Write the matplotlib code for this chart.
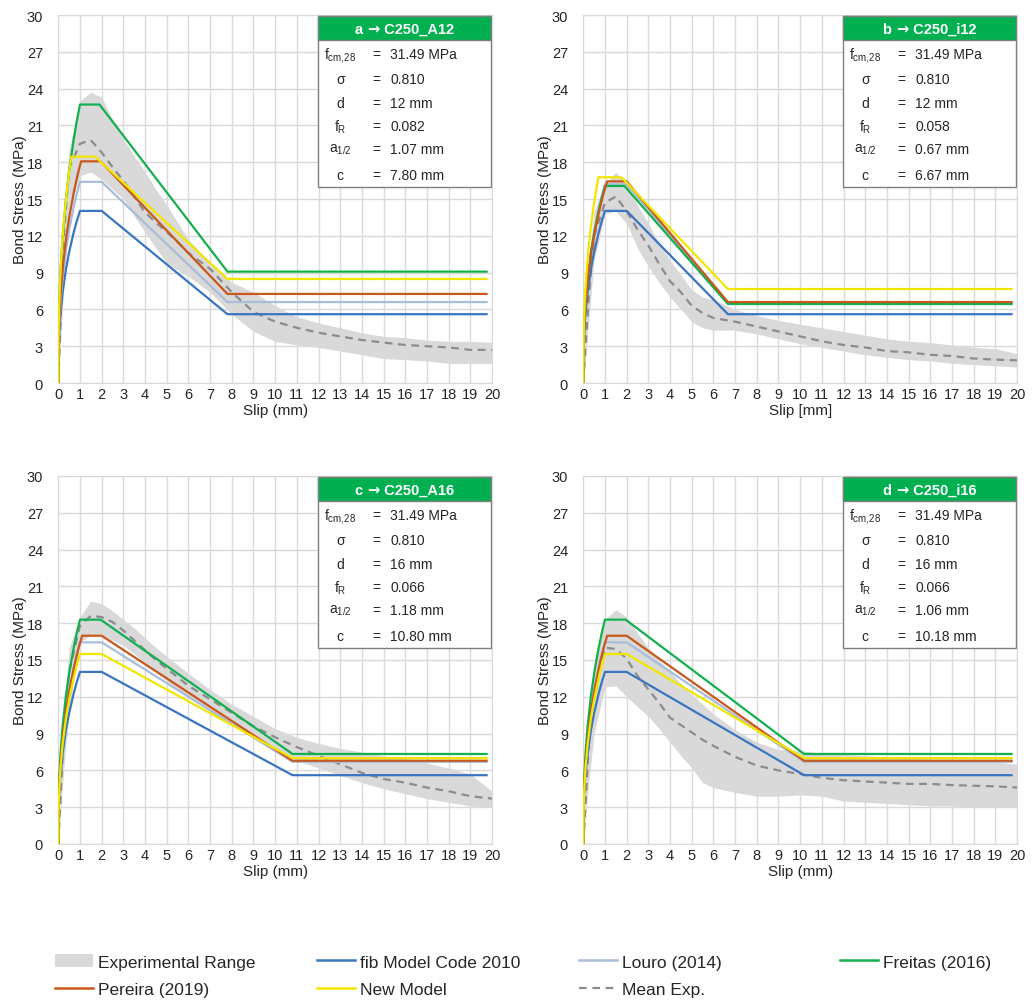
import numpy as np
import matplotlib
matplotlib.use("Agg")
import matplotlib.pyplot as plt
from matplotlib.patches import Rectangle, Patch
from matplotlib.lines import Line2D
from matplotlib.offsetbox import TextArea, HPacker, AnnotationBbox

plt.rcParams["font.family"] = ["Liberation Sans", "DejaVu Sans"]
plt.rcParams["mathtext.fontset"] = "custom"
plt.rcParams["mathtext.rm"] = "Liberation Sans"
plt.rcParams["mathtext.it"] = "Liberation Sans:italic"

# ---------------------------------------------------------------- data
SLIP = [0, 0.25, 0.5, 1, 1.5, 2, 2.5, 3, 3.5, 4, 4.5, 5, 5.5, 6,
        7, 8, 9, 10, 11, 12, 13, 14, 15, 16, 17, 18, 19, 20]

# experimental envelope (upper / lower) and mean curve, MPa
a_upper = [0, 14, 19, 23.0, 23.7, 23.3, 21.5, 19.9, 18.5, 17.2, 15.8, 14.5, 13.1, 11.7,
           9.8, 8.2, 7.4, 6.3, 5.4, 4.9, 4.5, 4.1, 3.8, 3.7, 3.5, 3.4, 3.4, 3.3]
a_lower = [0, 8, 14, 16.9, 17.2, 16.6, 15.8, 15.0, 13.6, 12.3, 11.0, 9.8, 9.2, 8.7,
           7.4, 5.6, 4.2, 3.4, 3.1, 2.9, 2.6, 2.3, 2.0, 1.9, 1.8, 1.6, 1.6, 1.6]
a_mean = [0, 12, 17.5, 19.5, 19.8, 18.8, 17.6, 16.5, 15.2, 13.9, 13.1, 12.3, 11.5, 10.6,
          9.3, 7.4, 5.8, 5.0, 4.5, 4.1, 3.8, 3.5, 3.3, 3.1, 3.0, 2.9, 2.7, 2.7]

b_upper = [0, 10, 14, 16.2, 17.2, 16.2, 14.5, 13.0, 11.4, 10.0, 8.8, 7.6, 7.0, 6.8,
           6.0, 5.5, 5.1, 4.8, 4.5, 4.2, 3.9, 3.6, 3.4, 3.3, 3.1, 2.9, 2.8, 2.4]
b_lower = [0, 5, 10, 13.8, 14.0, 13.0, 11.0, 9.5, 8.2, 7.0, 6.0, 5.0, 4.5, 4.3,
           4.3, 4.0, 3.6, 3.2, 2.9, 2.6, 2.3, 2.1, 1.9, 1.8, 1.6, 1.5, 1.4, 1.3]
b_mean = [0, 7, 12, 14.7, 15.2, 14.0, 12.5, 11.2, 9.7, 8.3, 7.4, 6.3, 5.7, 5.3,
          5.0, 4.6, 4.2, 3.8, 3.4, 3.1, 2.9, 2.6, 2.5, 2.3, 2.2, 2.0, 1.9, 1.85]

c_upper = [0, 11, 16, 18.5, 19.8, 19.6, 19.0, 18.3, 17.6, 16.8, 16.0, 15.3, 14.6, 13.9,
           12.6, 11.4, 10.4, 9.4, 8.7, 8.2, 7.8, 7.5, 7.2, 7.0, 6.6, 6.2, 5.7, 4.3]
c_lower = [0, 6, 11, 16.5, 17.0, 17.0, 16.6, 16.2, 15.5, 14.8, 14.0, 13.3, 12.6, 12.0,
           10.8, 9.7, 8.6, 7.6, 6.8, 6.2, 5.6, 5.0, 4.5, 4.1, 3.7, 3.4, 3.1, 3.0]
c_mean = [0, 9, 14, 17.8, 18.6, 18.5, 18.1, 17.4, 16.6, 15.8, 15.0, 14.3, 13.6, 12.9,
          11.8, 10.7, 9.6, 8.7, 7.9, 7.2, 6.5, 5.8, 5.3, 5.0, 4.6, 4.3, 3.9, 3.7]

d_upper = [0, 10, 15, 18.3, 19.1, 18.5, 17.2, 16.0, 15.0, 14.0, 13.1, 12.2, 11.4, 10.6,
           9.3, 8.3, 7.7, 7.6, 7.4, 7.3, 7.2, 7.1, 7.0, 6.9, 6.8, 6.7, 6.7, 6.5]
d_lower = [0, 5, 9, 12.8, 12.9, 12.0, 11.2, 10.4, 9.4, 8.3, 7.2, 6.2, 5.0, 4.6,
           4.2, 3.9, 3.9, 4.0, 3.9, 3.5, 3.4, 3.3, 3.2, 3.1, 3.1, 3.0, 3.0, 3.0]
d_mean = [0, 8, 12.5, 16.0, 15.9, 15.1, 13.7, 12.6, 11.5, 10.3, 9.7, 9.1, 8.5, 8.0,
          7.1, 6.4, 6.0, 5.7, 5.4, 5.2, 5.1, 5.0, 4.9, 4.9, 4.8, 4.75, 4.7, 4.6]

# shape of the ascending branch (relative slip -> relative stress)
RISE_S = [0, 0.005, 0.02, 0.05, 0.1, 0.2, 0.35, 0.5, 0.7, 0.85, 1.0]
RISE_T = [0, 0.12, 0.21, 0.30, 0.40, 0.525, 0.66, 0.76, 0.87, 0.94, 1.0]
SLIP_END = 19.75

MODELS = ["fib Model Code 2010", "Louro (2014)", "Freitas (2016)",
          "Pereira (2019)", "New Model"]
COLORS = {"fib Model Code 2010": "#3a75c0", "Louro (2014)": "#a9bcd8",
          "Freitas (2016)": "#12b04f", "Pereira (2019)": "#c8581c",
          "New Model": "#f2e600"}

# model parameters: tau_max, s1, s2, tau_f  (s3 = c)
a_models = {"fib Model Code 2010": (14.03, 1.0, 2.0, 5.61),
            "Louro (2014)": (16.40, 1.0, 2.0, 6.60),
            "Freitas (2016)": (22.70, 1.0, 1.9, 9.08),
            "Pereira (2019)": (18.07, 1.05, 1.95, 7.26),
            "New Model": (18.45, 0.6, 1.7, 8.48)}
b_models = {"fib Model Code 2010": (14.03, 1.0, 2.0, 5.61),
            "Louro (2014)": (16.20, 1.0, 2.0, 6.50),
            "Freitas (2016)": (16.06, 1.0, 1.9, 6.44),
            "Pereira (2019)": (16.44, 1.1, 2.0, 6.60),
            "New Model": (16.77, 0.7, 1.76, 7.66)}
c_models = {"fib Model Code 2010": (14.03, 1.0, 2.0, 5.61),
            "Louro (2014)": (16.44, 1.0, 2.0, 6.70),
            "Freitas (2016)": (18.29, 1.0, 1.95, 7.34),
            "Pereira (2019)": (16.98, 1.1, 2.0, 6.79),
            "New Model": (15.49, 1.0, 2.0, 7.00)}
d_models = {"fib Model Code 2010": (14.03, 1.0, 2.0, 5.61),
            "Louro (2014)": (16.44, 1.0, 2.0, 6.70),
            "Freitas (2016)": (18.29, 1.0, 1.95, 7.34),
            "Pereira (2019)": (16.98, 1.1, 2.0, 6.79),
            "New Model": (15.49, 1.0, 2.0, 7.00)}

# specimen info
PANEL_TAGS = ["a", "b", "c", "d"]
SPECIMENS = ["C250_A12", "C250_i12", "C250_A16", "C250_i16"]
FCM = ["31.49 MPa"] * 4
SIGMA = ["0.810"] * 4
DIAM = ["12 mm", "12 mm", "16 mm", "16 mm"]
FR = ["0.082", "0.058", "0.066", "0.066"]
A12 = ["1.07 mm", "0.67 mm", "1.18 mm", "1.06 mm"]
COVER = [7.80, 6.67, 10.80, 10.18]
XLABELS = ["Slip (mm)", "Slip [mm]", "Slip (mm)", "Slip (mm)"]

PANELS = [(a_upper, a_lower, a_mean, a_models),
          (b_upper, b_lower, b_mean, b_models),
          (c_upper, c_lower, c_mean, c_models),
          (d_upper, d_lower, d_mean, d_models)]

# ---------------------------------------------------------------- figure
W, H = 1036, 1003
fig = plt.figure(figsize=(W / 100, H / 100), dpi=100)

ax_boxes = [(58.3, 16, 433.7, 368), (583.3, 16, 433.7, 368),
            (58.3, 477, 433.7, 368), (583.3, 477, 433.7, 368)]

GRID = "#d9d9d9"
TXT = "#262626"
BAND = "#d9d9d9"
MEAN = "#8c8c8c"
HEADER = "#00b050"

order = ["fib Model Code 2010", "Louro (2014)", "Freitas (2016)",
         "Pereira (2019)", "New Model"]

for i, (upper, lower, mean, models) in enumerate(PANELS):
    x0, y0, w, h = ax_boxes[i]
    ax = fig.add_axes([x0 / W, 1 - (y0 + h) / H, w / W, h / H])
    ax.set_xlim(0, 20)
    ax.set_ylim(0, 30)
    ax.set_xticks(range(0, 21))
    ax.set_yticks(range(0, 31, 3))
    ax.grid(True, color=GRID, lw=1.0)
    ax.set_axisbelow(True)
    for sp in ax.spines.values():
        sp.set_color(GRID)
    ax.tick_params(axis="both", length=0, labelsize=10.5, colors=TXT)
    ax.tick_params(axis="y", pad=11)
    ax.tick_params(axis="x", pad=3)
    ax.set_ylabel("Bond Stress (MPa)", fontsize=11, color=TXT, labelpad=-0.5)
    ax.set_xlabel(XLABELS[i], fontsize=11, color=TXT, labelpad=1)

    ax.fill_between(SLIP, lower, upper, color=BAND, lw=0, zorder=1)
    ax.plot(SLIP, mean, color=MEAN, lw=1.6, ls=(0, (3.5, 2.5)), zorder=2)

    c = COVER[i]
    for name in order:
        tmax, s1, s2, tf = models[name]
        xs = [s1 * r for r in RISE_S] + [s2, c, SLIP_END]
        ys = [tmax * r for r in RISE_T] + [tmax, tf, tf]
        ax.plot(xs, ys, color=COLORS[name], lw=1.6, zorder=3,
                solid_joinstyle="round")

    # info box
    bx0, bx1 = 0.599, 0.998
    by0, by1, hy = 0.533, 0.997, 0.932
    ax.add_patch(Rectangle((bx0, by0), bx1 - bx0, by1 - by0, transform=ax.transAxes,
                           facecolor="white", edgecolor="#7f7f7f", lw=1.0, zorder=5))
    ax.add_patch(Rectangle((bx0, hy), bx1 - bx0, by1 - hy, transform=ax.transAxes,
                           facecolor=HEADER, edgecolor="#7f7f7f", lw=1.0, zorder=6))
    hdr_props = dict(color="white", fontsize=10.5, fontweight="bold")
    header = HPacker(children=[
        TextArea(PANEL_TAGS[i] + " ", textprops=dict(family="Liberation Sans", **hdr_props)),
        TextArea("\u2192", textprops=dict(family="DejaVu Sans", **hdr_props)),
        TextArea(" " + SPECIMENS[i], textprops=dict(family="Liberation Sans", **hdr_props)),
    ], align="baseline", pad=0, sep=0)
    ab = AnnotationBbox(header, ((bx0 + bx1) / 2, (hy + by1) / 2), xycoords="axes fraction",
                        frameon=False, box_alignment=(0.5, 0.5), zorder=7, pad=0)
    ax.add_artist(ab)

    syms = [r"f$\mathregular{_{cm{,}28}}$", "\u03c3", "d", r"f$\mathregular{_{R}}$",
            r"a$\mathregular{_{1/2}}$", "c"]
    vals = [FCM[i], SIGMA[i], DIAM[i], FR[i], A12[i], f"{COVER[i]:.2f} mm"]
    rows_y = [0.894, 0.826, 0.761, 0.698, 0.636, 0.565]
    for sym, val, ry in zip(syms, vals, rows_y):
        ax.text(0.650, ry, sym, transform=ax.transAxes, ha="center", va="center",
                fontsize=10, color=TXT, zorder=7,
                family=["Liberation Sans", "DejaVu Sans"])
        ax.text(0.733, ry, "=", transform=ax.transAxes, ha="center", va="center",
                fontsize=10, color=TXT, zorder=7)
        ax.text(0.765, ry, val, transform=ax.transAxes, ha="left", va="center",
                fontsize=10, color=TXT, zorder=7)

# ---------------------------------------------------------------- legend
h_band = Patch(facecolor=BAND, edgecolor="none", label="Experimental Range")
h_mean = Line2D([], [], color=MEAN, lw=1.6, ls=(0, (3.5, 2.5)), label="Mean Exp.")
h = {n: Line2D([], [], color=COLORS[n], lw=1.8, label=n) for n in MODELS}
columns = [[h_band, h["Pereira (2019)"]],
           [h["fib Model Code 2010"], h["New Model"]],
           [h["Louro (2014)"], h_mean],
           [h["Freitas (2016)"]]]
col_x = [55, 317, 579, 840]
for hs, cx in zip(columns, col_x):
    fig.legend(handles=hs, loc="upper left", bbox_to_anchor=(cx / W, 1 - 955 / H),
               frameon=False, fontsize=12.5, handlelength=2.2, handletextpad=0.25,
               borderpad=0, borderaxespad=0, labelspacing=0.68, labelcolor=TXT,
               handleheight=0.8)

fig.savefig("out.png", dpi=100)
